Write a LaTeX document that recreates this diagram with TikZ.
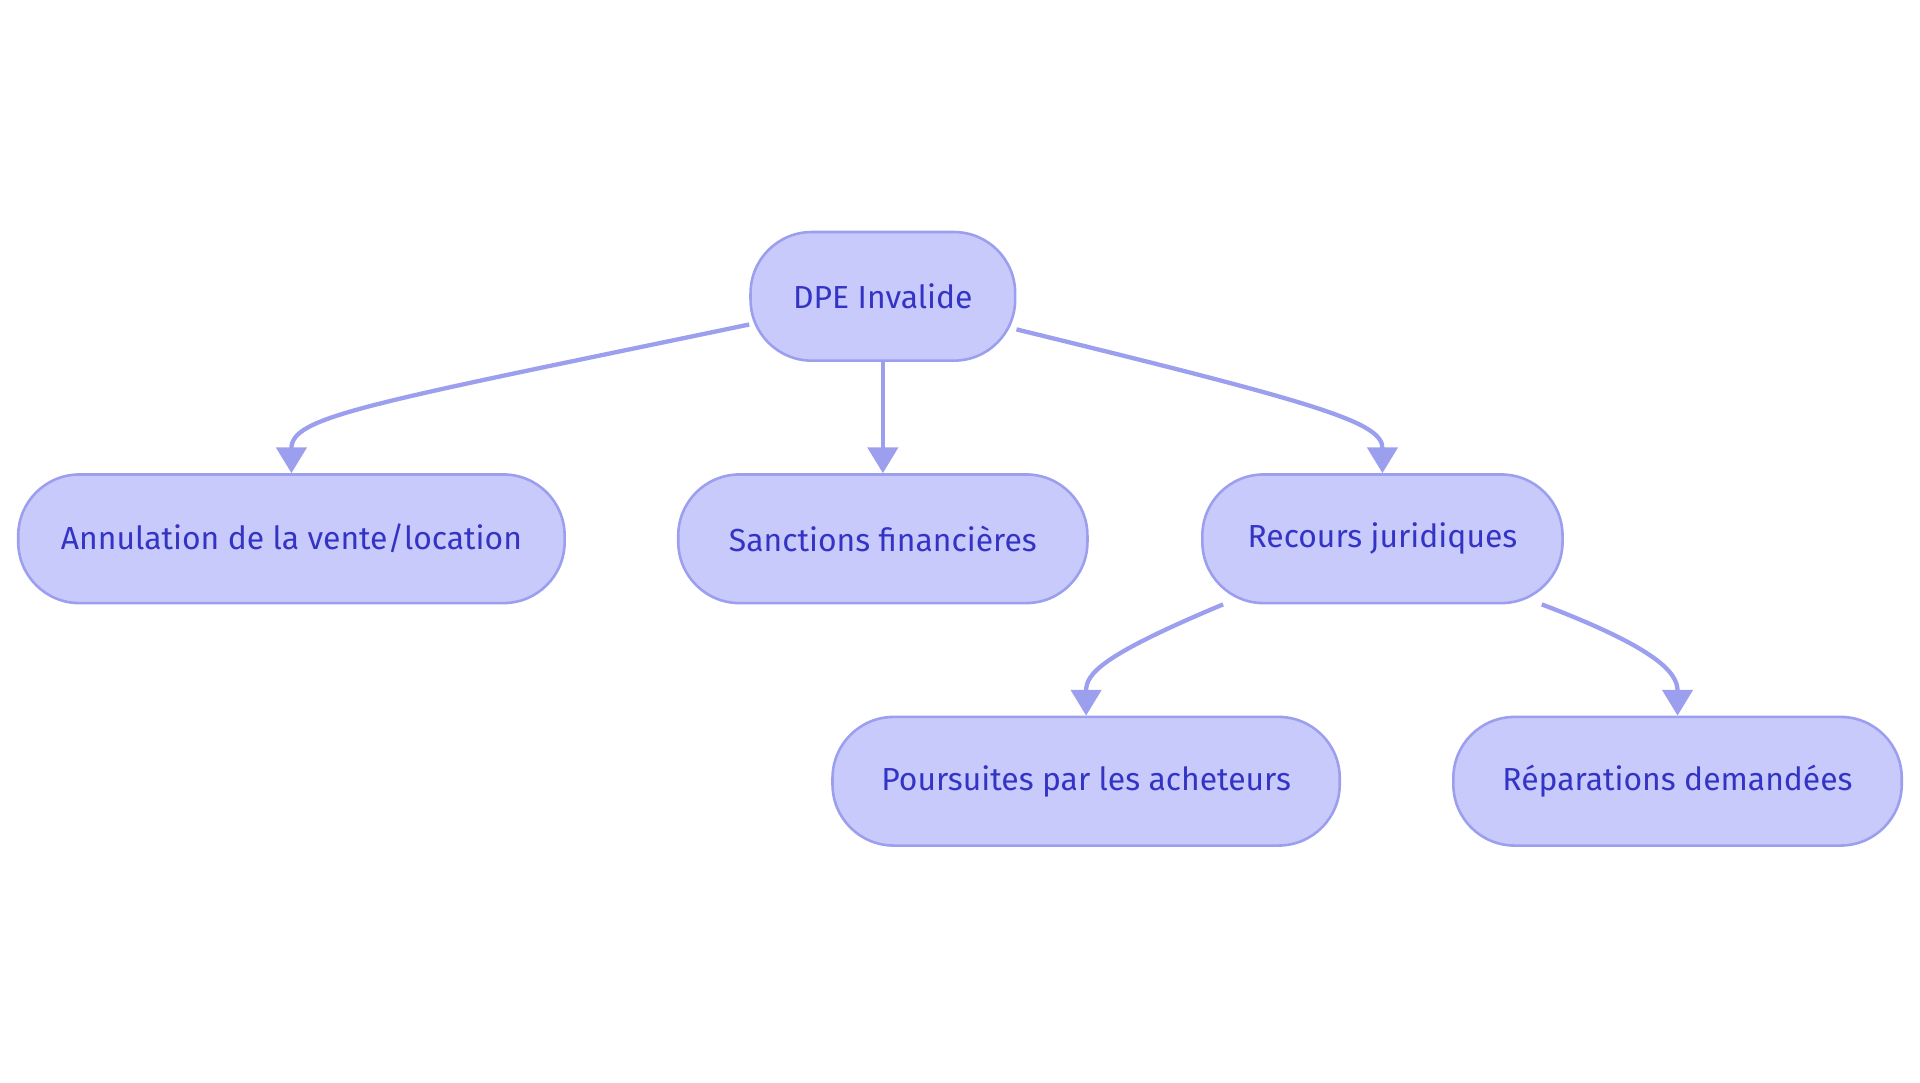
\documentclass[tikz,border=0pt]{standalone}
\usepackage{fontspec}
\setmainfont{Fira Sans}
\usetikzlibrary{arrows.meta,calc}
\definecolor{boxfill}{HTML}{C8CAFC}
\definecolor{boxline}{HTML}{9C9EEE}
\definecolor{boxtext}{HTML}{3434C4}
\tikzset{
	box/.style={rectangle,rounded corners=0.5cm,draw=boxline,fill=boxfill,line width=0.6pt,
		text=boxtext,font=\fontsize{7.4}{9}\selectfont,minimum height=1.05cm,inner sep=0pt},
	link/.style={draw=boxline,line width=1pt,arrows={-Triangle[length=6pt,width=7pt]}}
	}

\begin{document}
\begin{tikzpicture}[x=0.01cm,y=-0.01cm]
		\useasboundingbox (0,0) rectangle (1568,884);
		\node[box,minimum width=2.16cm] (dpe) at (721,242) {DPE Invalide};
		\node[box,minimum width=4.46cm] (ann) at (238,440) {Annulation de la vente/location};
		\node[box,minimum width=3.34cm] (san) at (721,440) {Sanctions financières};
		\node[box,minimum width=2.94cm] (rec) at (1129,440) {Recours juridiques};
		\node[box,minimum width=4.14cm] (pou) at (887,638) {Poursuites par les acheteurs};
		\node[box,minimum width=3.66cm] (rep) at (1370,638) {Réparations demandées};

		\draw[link] ($(dpe.west)+(0,23)$) .. controls (300,330) and (238,340) .. (ann.north);
		\draw[link] (dpe.south) -- (san.north);
		\draw[link] ($(dpe.east)+(0,27)$) .. controls (1080,330) and (1129,345) .. (rec.north);
		\draw[link] ($(rec.south west)+(18,0)$) .. controls (900,535) and (887,550) .. (pou.north);
		\draw[link] ($(rec.south east)+(-18,0)$) .. controls (1355,530) and (1370,550) .. (rep.north);
	\end{tikzpicture}
\end{document}
